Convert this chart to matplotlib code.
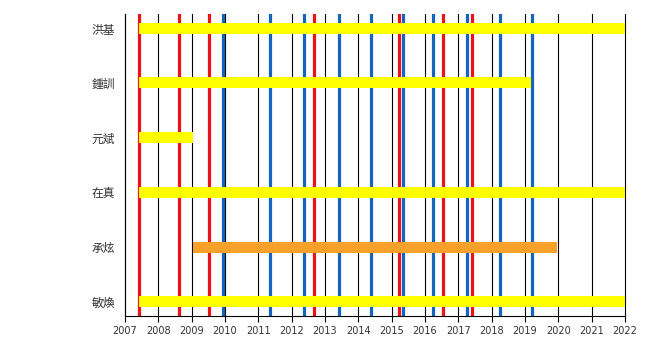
import matplotlib
matplotlib.use("Agg")
import matplotlib.pyplot as plt

members = ["洪基", "鍾訓", "元斌", "在真", "承炫", "敏煥"]
starts = [2007.41, 2007.41, 2007.41, 2007.41, 2009.05, 2007.41]
ends = [2022.0, 2019.17, 2009.05, 2022.0, 2019.97, 2022.0]
bar_colors = ["#ffff00", "#ffff00", "#ffff00", "#ffff00", "#f7a02a", "#ffff00"]
red_events = [2007.41, 2008.61, 2009.51, 2012.66, 2015.21, 2016.53, 2017.40]
blue_events = [2009.94, 2011.34, 2012.36, 2013.41, 2014.37, 2015.33, 2016.23, 2017.25, 2018.24, 2019.20]
years = list(range(2007, 2023))

fig = plt.figure(figsize=(6.5, 3.5), dpi=100)
ax = fig.add_axes([125/650, 34/350, 500/650, 302/350])

n = len(members)
ypos = [n - 1 - i for i in range(n)]

for yr in years:
    ax.axvline(yr, color="black", lw=0.8, zorder=1, clip_on=False)
for x in red_events:
    ax.axvline(x, color="#e8141a", lw=2.3, zorder=2)
for x in blue_events:
    ax.axvline(x, color="#1565c0", lw=2.3, zorder=2)

ax.barh(ypos, [e - s for s, e in zip(starts, ends)], left=starts, height=0.2,
        color=bar_colors, zorder=3)

ax.set_xlim(2007, 2022)
ax.set_ylim(-0.26, n - 1 + 0.26)
ax.set_xticks(years)
ax.set_xticklabels([str(y) for y in years], fontsize=7, color="#333333")
ax.set_yticks(ypos)
ax.set_yticklabels(members, fontsize=8.5, color="#333333",
                   family=["Noto Sans CJK TC", "DejaVu Sans"])
ax.tick_params(axis="y", length=0, pad=7)
ax.tick_params(axis="x", length=4, width=0.8, pad=3)
ax.spines["top"].set_visible(False)
ax.spines["right"].set_visible(False)

fig.savefig("out.png", dpi=100)
